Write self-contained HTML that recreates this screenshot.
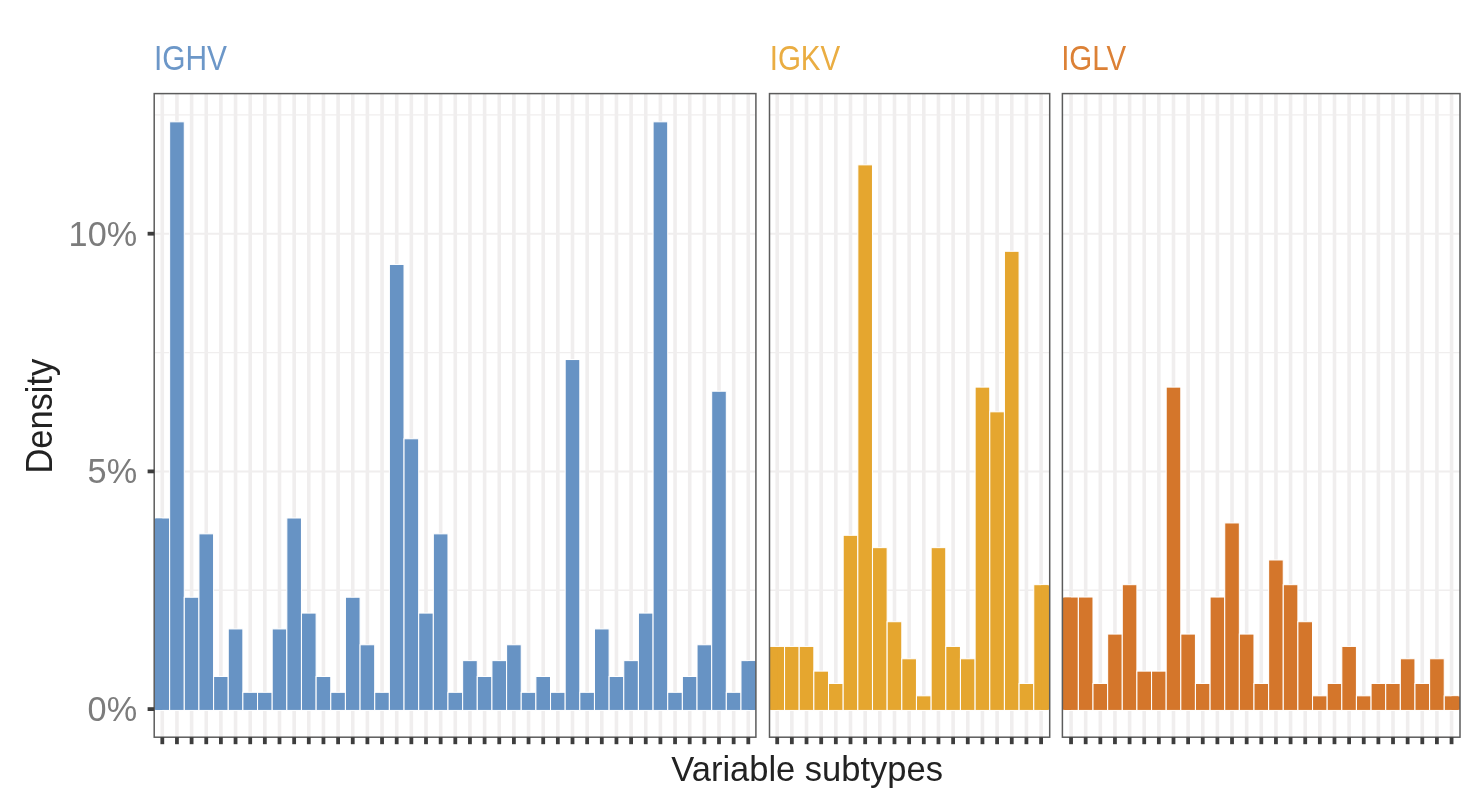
<!DOCTYPE html>
<html lang="en"><head><meta charset="utf-8"><title>Variable subtypes density</title>
<style>
html,body{margin:0;padding:0;background:#fff}
body{width:1484px;height:812px;overflow:hidden}
svg{display:block;filter:blur(0.55px)}
svg text{font-family:"Liberation Sans",Arial,Helvetica,sans-serif}
</style></head><body>
<svg width="1484" height="812" viewBox="0 0 1484 812">
<rect width="1484" height="812" fill="#fff"/>
<g><line x1="154.2" x2="755.9" y1="709.1" y2="709.1" stroke="#f0eeee" stroke-width="2.0"/><line x1="154.2" x2="755.9" y1="590.25" y2="590.25" stroke="#f0eeee" stroke-width="1.3"/><line x1="154.2" x2="755.9" y1="471.4" y2="471.4" stroke="#f0eeee" stroke-width="2.0"/><line x1="154.2" x2="755.9" y1="352.55" y2="352.55" stroke="#f0eeee" stroke-width="1.3"/><line x1="154.2" x2="755.9" y1="233.7" y2="233.7" stroke="#f0eeee" stroke-width="2.0"/><line x1="154.2" x2="755.9" y1="114.85" y2="114.85" stroke="#f0eeee" stroke-width="1.3"/><line x1="162.3" x2="162.3" y1="93.6" y2="737.2" stroke="#f0eeee" stroke-width="3.6"/><line x1="176.95" x2="176.95" y1="93.6" y2="737.2" stroke="#f0eeee" stroke-width="3.6"/><line x1="191.6" x2="191.6" y1="93.6" y2="737.2" stroke="#f0eeee" stroke-width="3.6"/><line x1="206.25" x2="206.25" y1="93.6" y2="737.2" stroke="#f0eeee" stroke-width="3.6"/><line x1="220.9" x2="220.9" y1="93.6" y2="737.2" stroke="#f0eeee" stroke-width="3.6"/><line x1="235.55" x2="235.55" y1="93.6" y2="737.2" stroke="#f0eeee" stroke-width="3.6"/><line x1="250.2" x2="250.2" y1="93.6" y2="737.2" stroke="#f0eeee" stroke-width="3.6"/><line x1="264.85" x2="264.85" y1="93.6" y2="737.2" stroke="#f0eeee" stroke-width="3.6"/><line x1="279.5" x2="279.5" y1="93.6" y2="737.2" stroke="#f0eeee" stroke-width="3.6"/><line x1="294.15" x2="294.15" y1="93.6" y2="737.2" stroke="#f0eeee" stroke-width="3.6"/><line x1="308.8" x2="308.8" y1="93.6" y2="737.2" stroke="#f0eeee" stroke-width="3.6"/><line x1="323.45" x2="323.45" y1="93.6" y2="737.2" stroke="#f0eeee" stroke-width="3.6"/><line x1="338.1" x2="338.1" y1="93.6" y2="737.2" stroke="#f0eeee" stroke-width="3.6"/><line x1="352.75" x2="352.75" y1="93.6" y2="737.2" stroke="#f0eeee" stroke-width="3.6"/><line x1="367.4" x2="367.4" y1="93.6" y2="737.2" stroke="#f0eeee" stroke-width="3.6"/><line x1="382.05" x2="382.05" y1="93.6" y2="737.2" stroke="#f0eeee" stroke-width="3.6"/><line x1="396.7" x2="396.7" y1="93.6" y2="737.2" stroke="#f0eeee" stroke-width="3.6"/><line x1="411.35" x2="411.35" y1="93.6" y2="737.2" stroke="#f0eeee" stroke-width="3.6"/><line x1="426" x2="426" y1="93.6" y2="737.2" stroke="#f0eeee" stroke-width="3.6"/><line x1="440.65" x2="440.65" y1="93.6" y2="737.2" stroke="#f0eeee" stroke-width="3.6"/><line x1="455.3" x2="455.3" y1="93.6" y2="737.2" stroke="#f0eeee" stroke-width="3.6"/><line x1="469.95" x2="469.95" y1="93.6" y2="737.2" stroke="#f0eeee" stroke-width="3.6"/><line x1="484.6" x2="484.6" y1="93.6" y2="737.2" stroke="#f0eeee" stroke-width="3.6"/><line x1="499.25" x2="499.25" y1="93.6" y2="737.2" stroke="#f0eeee" stroke-width="3.6"/><line x1="513.9" x2="513.9" y1="93.6" y2="737.2" stroke="#f0eeee" stroke-width="3.6"/><line x1="528.55" x2="528.55" y1="93.6" y2="737.2" stroke="#f0eeee" stroke-width="3.6"/><line x1="543.2" x2="543.2" y1="93.6" y2="737.2" stroke="#f0eeee" stroke-width="3.6"/><line x1="557.85" x2="557.85" y1="93.6" y2="737.2" stroke="#f0eeee" stroke-width="3.6"/><line x1="572.5" x2="572.5" y1="93.6" y2="737.2" stroke="#f0eeee" stroke-width="3.6"/><line x1="587.15" x2="587.15" y1="93.6" y2="737.2" stroke="#f0eeee" stroke-width="3.6"/><line x1="601.8" x2="601.8" y1="93.6" y2="737.2" stroke="#f0eeee" stroke-width="3.6"/><line x1="616.45" x2="616.45" y1="93.6" y2="737.2" stroke="#f0eeee" stroke-width="3.6"/><line x1="631.1" x2="631.1" y1="93.6" y2="737.2" stroke="#f0eeee" stroke-width="3.6"/><line x1="645.75" x2="645.75" y1="93.6" y2="737.2" stroke="#f0eeee" stroke-width="3.6"/><line x1="660.4" x2="660.4" y1="93.6" y2="737.2" stroke="#f0eeee" stroke-width="3.6"/><line x1="675.05" x2="675.05" y1="93.6" y2="737.2" stroke="#f0eeee" stroke-width="3.6"/><line x1="689.7" x2="689.7" y1="93.6" y2="737.2" stroke="#f0eeee" stroke-width="3.6"/><line x1="704.35" x2="704.35" y1="93.6" y2="737.2" stroke="#f0eeee" stroke-width="3.6"/><line x1="719" x2="719" y1="93.6" y2="737.2" stroke="#f0eeee" stroke-width="3.6"/><line x1="733.65" x2="733.65" y1="93.6" y2="737.2" stroke="#f0eeee" stroke-width="3.6"/><line x1="748.3" x2="748.3" y1="93.6" y2="737.2" stroke="#f0eeee" stroke-width="3.6"/></g>
<g fill="#6793c4" stroke="#fff" stroke-width="1.05"><rect x="154.98" y="517.99" width="14.65" height="192.46"/><rect x="169.63" y="121.82" width="14.65" height="588.63"/><rect x="184.28" y="597.22" width="14.65" height="113.23"/><rect x="198.93" y="533.84" width="14.65" height="176.61"/><rect x="213.58" y="676.46" width="14.65" height="33.99"/><rect x="228.23" y="628.92" width="14.65" height="81.53"/><rect x="242.88" y="692.3" width="14.65" height="18.15"/><rect x="257.53" y="692.3" width="14.65" height="18.15"/><rect x="272.18" y="628.92" width="14.65" height="81.53"/><rect x="286.82" y="517.99" width="14.65" height="192.46"/><rect x="301.48" y="613.07" width="14.65" height="97.38"/><rect x="316.13" y="676.46" width="14.65" height="33.99"/><rect x="330.78" y="692.3" width="14.65" height="18.15"/><rect x="345.43" y="597.22" width="14.65" height="113.23"/><rect x="360.07" y="644.76" width="14.65" height="65.69"/><rect x="374.73" y="692.3" width="14.65" height="18.15"/><rect x="389.38" y="264.44" width="14.65" height="446.01"/><rect x="404.03" y="438.76" width="14.65" height="271.69"/><rect x="418.68" y="613.07" width="14.65" height="97.38"/><rect x="433.33" y="533.84" width="14.65" height="176.61"/><rect x="447.98" y="692.3" width="14.65" height="18.15"/><rect x="462.63" y="660.61" width="14.65" height="49.84"/><rect x="477.28" y="676.46" width="14.65" height="33.99"/><rect x="491.93" y="660.61" width="14.65" height="49.84"/><rect x="506.58" y="644.76" width="14.65" height="65.69"/><rect x="521.22" y="692.3" width="14.65" height="18.15"/><rect x="535.88" y="676.46" width="14.65" height="33.99"/><rect x="550.52" y="692.3" width="14.65" height="18.15"/><rect x="565.17" y="359.52" width="14.65" height="350.93"/><rect x="579.83" y="692.3" width="14.65" height="18.15"/><rect x="594.47" y="628.92" width="14.65" height="81.53"/><rect x="609.12" y="676.46" width="14.65" height="33.99"/><rect x="623.77" y="660.61" width="14.65" height="49.84"/><rect x="638.42" y="613.07" width="14.65" height="97.38"/><rect x="653.08" y="121.82" width="14.65" height="588.63"/><rect x="667.72" y="692.3" width="14.65" height="18.15"/><rect x="682.38" y="676.46" width="14.65" height="33.99"/><rect x="697.03" y="644.76" width="14.65" height="65.69"/><rect x="711.67" y="391.22" width="14.65" height="319.23"/><rect x="726.33" y="692.3" width="14.65" height="18.15"/><rect x="740.97" y="660.61" width="14.65" height="49.84"/></g>
<g fill="#6793c4"><rect x="154.2" y="518.64" width="8.1" height="191.16"/><rect x="748.3" y="661.26" width="7.6" height="48.54"/></g>
<rect x="154.2" y="93.6" width="601.7" height="643.6" fill="none" stroke="#5c5c5c" stroke-width="1.5"/>
<g stroke="#3d3d3d" stroke-width="3.8"><line x1="162.3" x2="162.3" y1="737.2" y2="744.2"/><line x1="176.95" x2="176.95" y1="737.2" y2="744.2"/><line x1="191.6" x2="191.6" y1="737.2" y2="744.2"/><line x1="206.25" x2="206.25" y1="737.2" y2="744.2"/><line x1="220.9" x2="220.9" y1="737.2" y2="744.2"/><line x1="235.55" x2="235.55" y1="737.2" y2="744.2"/><line x1="250.2" x2="250.2" y1="737.2" y2="744.2"/><line x1="264.85" x2="264.85" y1="737.2" y2="744.2"/><line x1="279.5" x2="279.5" y1="737.2" y2="744.2"/><line x1="294.15" x2="294.15" y1="737.2" y2="744.2"/><line x1="308.8" x2="308.8" y1="737.2" y2="744.2"/><line x1="323.45" x2="323.45" y1="737.2" y2="744.2"/><line x1="338.1" x2="338.1" y1="737.2" y2="744.2"/><line x1="352.75" x2="352.75" y1="737.2" y2="744.2"/><line x1="367.4" x2="367.4" y1="737.2" y2="744.2"/><line x1="382.05" x2="382.05" y1="737.2" y2="744.2"/><line x1="396.7" x2="396.7" y1="737.2" y2="744.2"/><line x1="411.35" x2="411.35" y1="737.2" y2="744.2"/><line x1="426" x2="426" y1="737.2" y2="744.2"/><line x1="440.65" x2="440.65" y1="737.2" y2="744.2"/><line x1="455.3" x2="455.3" y1="737.2" y2="744.2"/><line x1="469.95" x2="469.95" y1="737.2" y2="744.2"/><line x1="484.6" x2="484.6" y1="737.2" y2="744.2"/><line x1="499.25" x2="499.25" y1="737.2" y2="744.2"/><line x1="513.9" x2="513.9" y1="737.2" y2="744.2"/><line x1="528.55" x2="528.55" y1="737.2" y2="744.2"/><line x1="543.2" x2="543.2" y1="737.2" y2="744.2"/><line x1="557.85" x2="557.85" y1="737.2" y2="744.2"/><line x1="572.5" x2="572.5" y1="737.2" y2="744.2"/><line x1="587.15" x2="587.15" y1="737.2" y2="744.2"/><line x1="601.8" x2="601.8" y1="737.2" y2="744.2"/><line x1="616.45" x2="616.45" y1="737.2" y2="744.2"/><line x1="631.1" x2="631.1" y1="737.2" y2="744.2"/><line x1="645.75" x2="645.75" y1="737.2" y2="744.2"/><line x1="660.4" x2="660.4" y1="737.2" y2="744.2"/><line x1="675.05" x2="675.05" y1="737.2" y2="744.2"/><line x1="689.7" x2="689.7" y1="737.2" y2="744.2"/><line x1="704.35" x2="704.35" y1="737.2" y2="744.2"/><line x1="719" x2="719" y1="737.2" y2="744.2"/><line x1="733.65" x2="733.65" y1="737.2" y2="744.2"/><line x1="748.3" x2="748.3" y1="737.2" y2="744.2"/></g>
<text x="153.9" y="70.4" font-size="34.5" fill="#6c97c8" textLength="73.05" lengthAdjust="spacingAndGlyphs">IGHV</text>
<g><line x1="769.5" x2="1049.7" y1="709.1" y2="709.1" stroke="#f0eeee" stroke-width="2.0"/><line x1="769.5" x2="1049.7" y1="590.25" y2="590.25" stroke="#f0eeee" stroke-width="1.3"/><line x1="769.5" x2="1049.7" y1="471.4" y2="471.4" stroke="#f0eeee" stroke-width="2.0"/><line x1="769.5" x2="1049.7" y1="352.55" y2="352.55" stroke="#f0eeee" stroke-width="1.3"/><line x1="769.5" x2="1049.7" y1="233.7" y2="233.7" stroke="#f0eeee" stroke-width="2.0"/><line x1="769.5" x2="1049.7" y1="114.85" y2="114.85" stroke="#f0eeee" stroke-width="1.3"/><line x1="777.2" x2="777.2" y1="93.6" y2="737.2" stroke="#f0eeee" stroke-width="3.6"/><line x1="791.86" x2="791.86" y1="93.6" y2="737.2" stroke="#f0eeee" stroke-width="3.6"/><line x1="806.52" x2="806.52" y1="93.6" y2="737.2" stroke="#f0eeee" stroke-width="3.6"/><line x1="821.18" x2="821.18" y1="93.6" y2="737.2" stroke="#f0eeee" stroke-width="3.6"/><line x1="835.84" x2="835.84" y1="93.6" y2="737.2" stroke="#f0eeee" stroke-width="3.6"/><line x1="850.5" x2="850.5" y1="93.6" y2="737.2" stroke="#f0eeee" stroke-width="3.6"/><line x1="865.16" x2="865.16" y1="93.6" y2="737.2" stroke="#f0eeee" stroke-width="3.6"/><line x1="879.82" x2="879.82" y1="93.6" y2="737.2" stroke="#f0eeee" stroke-width="3.6"/><line x1="894.48" x2="894.48" y1="93.6" y2="737.2" stroke="#f0eeee" stroke-width="3.6"/><line x1="909.14" x2="909.14" y1="93.6" y2="737.2" stroke="#f0eeee" stroke-width="3.6"/><line x1="923.8" x2="923.8" y1="93.6" y2="737.2" stroke="#f0eeee" stroke-width="3.6"/><line x1="938.46" x2="938.46" y1="93.6" y2="737.2" stroke="#f0eeee" stroke-width="3.6"/><line x1="953.12" x2="953.12" y1="93.6" y2="737.2" stroke="#f0eeee" stroke-width="3.6"/><line x1="967.78" x2="967.78" y1="93.6" y2="737.2" stroke="#f0eeee" stroke-width="3.6"/><line x1="982.44" x2="982.44" y1="93.6" y2="737.2" stroke="#f0eeee" stroke-width="3.6"/><line x1="997.1" x2="997.1" y1="93.6" y2="737.2" stroke="#f0eeee" stroke-width="3.6"/><line x1="1011.76" x2="1011.76" y1="93.6" y2="737.2" stroke="#f0eeee" stroke-width="3.6"/><line x1="1026.42" x2="1026.42" y1="93.6" y2="737.2" stroke="#f0eeee" stroke-width="3.6"/><line x1="1041.08" x2="1041.08" y1="93.6" y2="737.2" stroke="#f0eeee" stroke-width="3.6"/></g>
<g fill="#e5a62f" stroke="#fff" stroke-width="1.05"><rect x="769.87" y="646.41" width="14.66" height="64.04"/><rect x="784.53" y="646.41" width="14.66" height="64.04"/><rect x="799.19" y="646.41" width="14.66" height="64.04"/><rect x="813.85" y="671.11" width="14.66" height="39.34"/><rect x="828.51" y="683.45" width="14.66" height="27"/><rect x="843.17" y="535.28" width="14.66" height="175.17"/><rect x="857.83" y="164.84" width="14.66" height="545.61"/><rect x="872.49" y="547.63" width="14.66" height="162.82"/><rect x="887.15" y="621.71" width="14.66" height="88.74"/><rect x="901.81" y="658.76" width="14.66" height="51.69"/><rect x="916.47" y="695.8" width="14.66" height="14.65"/><rect x="931.13" y="547.63" width="14.66" height="162.82"/><rect x="945.79" y="646.41" width="14.66" height="64.04"/><rect x="960.45" y="658.76" width="14.66" height="51.69"/><rect x="975.11" y="387.1" width="14.66" height="323.35"/><rect x="989.77" y="411.8" width="14.66" height="298.65"/><rect x="1004.43" y="251.27" width="14.66" height="459.18"/><rect x="1019.09" y="683.45" width="14.66" height="27"/><rect x="1033.75" y="584.67" width="14.66" height="125.78"/></g>
<g fill="#e5a62f"><rect x="769.5" y="647.06" width="7.7" height="62.74"/><rect x="1041.08" y="585.32" width="8.62" height="124.48"/></g>
<rect x="769.5" y="93.6" width="280.2" height="643.6" fill="none" stroke="#5c5c5c" stroke-width="1.5"/>
<g stroke="#3d3d3d" stroke-width="3.8"><line x1="777.2" x2="777.2" y1="737.2" y2="744.2"/><line x1="791.86" x2="791.86" y1="737.2" y2="744.2"/><line x1="806.52" x2="806.52" y1="737.2" y2="744.2"/><line x1="821.18" x2="821.18" y1="737.2" y2="744.2"/><line x1="835.84" x2="835.84" y1="737.2" y2="744.2"/><line x1="850.5" x2="850.5" y1="737.2" y2="744.2"/><line x1="865.16" x2="865.16" y1="737.2" y2="744.2"/><line x1="879.82" x2="879.82" y1="737.2" y2="744.2"/><line x1="894.48" x2="894.48" y1="737.2" y2="744.2"/><line x1="909.14" x2="909.14" y1="737.2" y2="744.2"/><line x1="923.8" x2="923.8" y1="737.2" y2="744.2"/><line x1="938.46" x2="938.46" y1="737.2" y2="744.2"/><line x1="953.12" x2="953.12" y1="737.2" y2="744.2"/><line x1="967.78" x2="967.78" y1="737.2" y2="744.2"/><line x1="982.44" x2="982.44" y1="737.2" y2="744.2"/><line x1="997.1" x2="997.1" y1="737.2" y2="744.2"/><line x1="1011.76" x2="1011.76" y1="737.2" y2="744.2"/><line x1="1026.42" x2="1026.42" y1="737.2" y2="744.2"/><line x1="1041.08" x2="1041.08" y1="737.2" y2="744.2"/></g>
<text x="769.7" y="70.4" font-size="34.5" fill="#eaad42" textLength="70.6" lengthAdjust="spacingAndGlyphs">IGKV</text>
<g><line x1="1062.4" x2="1460" y1="709.1" y2="709.1" stroke="#f0eeee" stroke-width="2.0"/><line x1="1062.4" x2="1460" y1="590.25" y2="590.25" stroke="#f0eeee" stroke-width="1.3"/><line x1="1062.4" x2="1460" y1="471.4" y2="471.4" stroke="#f0eeee" stroke-width="2.0"/><line x1="1062.4" x2="1460" y1="352.55" y2="352.55" stroke="#f0eeee" stroke-width="1.3"/><line x1="1062.4" x2="1460" y1="233.7" y2="233.7" stroke="#f0eeee" stroke-width="2.0"/><line x1="1062.4" x2="1460" y1="114.85" y2="114.85" stroke="#f0eeee" stroke-width="1.3"/><line x1="1071.05" x2="1071.05" y1="93.6" y2="737.2" stroke="#f0eeee" stroke-width="3.6"/><line x1="1085.68" x2="1085.68" y1="93.6" y2="737.2" stroke="#f0eeee" stroke-width="3.6"/><line x1="1100.32" x2="1100.32" y1="93.6" y2="737.2" stroke="#f0eeee" stroke-width="3.6"/><line x1="1114.95" x2="1114.95" y1="93.6" y2="737.2" stroke="#f0eeee" stroke-width="3.6"/><line x1="1129.59" x2="1129.59" y1="93.6" y2="737.2" stroke="#f0eeee" stroke-width="3.6"/><line x1="1144.22" x2="1144.22" y1="93.6" y2="737.2" stroke="#f0eeee" stroke-width="3.6"/><line x1="1158.86" x2="1158.86" y1="93.6" y2="737.2" stroke="#f0eeee" stroke-width="3.6"/><line x1="1173.49" x2="1173.49" y1="93.6" y2="737.2" stroke="#f0eeee" stroke-width="3.6"/><line x1="1188.13" x2="1188.13" y1="93.6" y2="737.2" stroke="#f0eeee" stroke-width="3.6"/><line x1="1202.76" x2="1202.76" y1="93.6" y2="737.2" stroke="#f0eeee" stroke-width="3.6"/><line x1="1217.4" x2="1217.4" y1="93.6" y2="737.2" stroke="#f0eeee" stroke-width="3.6"/><line x1="1232.03" x2="1232.03" y1="93.6" y2="737.2" stroke="#f0eeee" stroke-width="3.6"/><line x1="1246.67" x2="1246.67" y1="93.6" y2="737.2" stroke="#f0eeee" stroke-width="3.6"/><line x1="1261.3" x2="1261.3" y1="93.6" y2="737.2" stroke="#f0eeee" stroke-width="3.6"/><line x1="1275.94" x2="1275.94" y1="93.6" y2="737.2" stroke="#f0eeee" stroke-width="3.6"/><line x1="1290.58" x2="1290.58" y1="93.6" y2="737.2" stroke="#f0eeee" stroke-width="3.6"/><line x1="1305.21" x2="1305.21" y1="93.6" y2="737.2" stroke="#f0eeee" stroke-width="3.6"/><line x1="1319.85" x2="1319.85" y1="93.6" y2="737.2" stroke="#f0eeee" stroke-width="3.6"/><line x1="1334.48" x2="1334.48" y1="93.6" y2="737.2" stroke="#f0eeee" stroke-width="3.6"/><line x1="1349.12" x2="1349.12" y1="93.6" y2="737.2" stroke="#f0eeee" stroke-width="3.6"/><line x1="1363.75" x2="1363.75" y1="93.6" y2="737.2" stroke="#f0eeee" stroke-width="3.6"/><line x1="1378.38" x2="1378.38" y1="93.6" y2="737.2" stroke="#f0eeee" stroke-width="3.6"/><line x1="1393.02" x2="1393.02" y1="93.6" y2="737.2" stroke="#f0eeee" stroke-width="3.6"/><line x1="1407.65" x2="1407.65" y1="93.6" y2="737.2" stroke="#f0eeee" stroke-width="3.6"/><line x1="1422.29" x2="1422.29" y1="93.6" y2="737.2" stroke="#f0eeee" stroke-width="3.6"/><line x1="1436.92" x2="1436.92" y1="93.6" y2="737.2" stroke="#f0eeee" stroke-width="3.6"/><line x1="1451.56" x2="1451.56" y1="93.6" y2="737.2" stroke="#f0eeee" stroke-width="3.6"/></g>
<g fill="#d4762b" stroke="#fff" stroke-width="1.05"><rect x="1063.73" y="597.02" width="14.63" height="113.43"/><rect x="1078.37" y="597.02" width="14.63" height="113.43"/><rect x="1093" y="683.45" width="14.63" height="27"/><rect x="1107.64" y="634.06" width="14.63" height="76.39"/><rect x="1122.27" y="584.67" width="14.63" height="125.78"/><rect x="1136.91" y="671.11" width="14.63" height="39.34"/><rect x="1151.54" y="671.11" width="14.63" height="39.34"/><rect x="1166.18" y="387.1" width="14.63" height="323.35"/><rect x="1180.81" y="634.06" width="14.63" height="76.39"/><rect x="1195.45" y="683.45" width="14.63" height="27"/><rect x="1210.08" y="597.02" width="14.63" height="113.43"/><rect x="1224.72" y="522.93" width="14.63" height="187.52"/><rect x="1239.35" y="634.06" width="14.63" height="76.39"/><rect x="1253.99" y="683.45" width="14.63" height="27"/><rect x="1268.62" y="559.97" width="14.63" height="150.48"/><rect x="1283.26" y="584.67" width="14.63" height="125.78"/><rect x="1297.89" y="621.71" width="14.63" height="88.74"/><rect x="1312.53" y="695.8" width="14.63" height="14.65"/><rect x="1327.16" y="683.45" width="14.63" height="27"/><rect x="1341.8" y="646.41" width="14.63" height="64.04"/><rect x="1356.43" y="695.8" width="14.63" height="14.65"/><rect x="1371.07" y="683.45" width="14.63" height="27"/><rect x="1385.7" y="683.45" width="14.63" height="27"/><rect x="1400.34" y="658.76" width="14.63" height="51.69"/><rect x="1414.97" y="683.45" width="14.63" height="27"/><rect x="1429.61" y="658.76" width="14.63" height="51.69"/><rect x="1444.24" y="695.8" width="14.63" height="14.65"/></g>
<g fill="#d4762b"><rect x="1062.4" y="597.67" width="8.65" height="112.13"/><rect x="1451.56" y="696.45" width="8.44" height="13.35"/></g>
<rect x="1062.4" y="93.6" width="397.6" height="643.6" fill="none" stroke="#5c5c5c" stroke-width="1.5"/>
<g stroke="#3d3d3d" stroke-width="3.8"><line x1="1071.05" x2="1071.05" y1="737.2" y2="744.2"/><line x1="1085.68" x2="1085.68" y1="737.2" y2="744.2"/><line x1="1100.32" x2="1100.32" y1="737.2" y2="744.2"/><line x1="1114.95" x2="1114.95" y1="737.2" y2="744.2"/><line x1="1129.59" x2="1129.59" y1="737.2" y2="744.2"/><line x1="1144.22" x2="1144.22" y1="737.2" y2="744.2"/><line x1="1158.86" x2="1158.86" y1="737.2" y2="744.2"/><line x1="1173.49" x2="1173.49" y1="737.2" y2="744.2"/><line x1="1188.13" x2="1188.13" y1="737.2" y2="744.2"/><line x1="1202.76" x2="1202.76" y1="737.2" y2="744.2"/><line x1="1217.4" x2="1217.4" y1="737.2" y2="744.2"/><line x1="1232.03" x2="1232.03" y1="737.2" y2="744.2"/><line x1="1246.67" x2="1246.67" y1="737.2" y2="744.2"/><line x1="1261.3" x2="1261.3" y1="737.2" y2="744.2"/><line x1="1275.94" x2="1275.94" y1="737.2" y2="744.2"/><line x1="1290.58" x2="1290.58" y1="737.2" y2="744.2"/><line x1="1305.21" x2="1305.21" y1="737.2" y2="744.2"/><line x1="1319.85" x2="1319.85" y1="737.2" y2="744.2"/><line x1="1334.48" x2="1334.48" y1="737.2" y2="744.2"/><line x1="1349.12" x2="1349.12" y1="737.2" y2="744.2"/><line x1="1363.75" x2="1363.75" y1="737.2" y2="744.2"/><line x1="1378.38" x2="1378.38" y1="737.2" y2="744.2"/><line x1="1393.02" x2="1393.02" y1="737.2" y2="744.2"/><line x1="1407.65" x2="1407.65" y1="737.2" y2="744.2"/><line x1="1422.29" x2="1422.29" y1="737.2" y2="744.2"/><line x1="1436.92" x2="1436.92" y1="737.2" y2="744.2"/><line x1="1451.56" x2="1451.56" y1="737.2" y2="744.2"/></g>
<text x="1061.2" y="70.4" font-size="34.5" fill="#dc8136" textLength="64.9" lengthAdjust="spacingAndGlyphs">IGLV</text>
<line x1="147.6" x2="154.2" y1="709.1" y2="709.1" stroke="#3d3d3d" stroke-width="3.8"/><text x="137.1" y="721" text-anchor="end" font-size="35.2" textLength="49.5" lengthAdjust="spacingAndGlyphs" fill="#7c7c7c">0%</text><line x1="147.6" x2="154.2" y1="471.4" y2="471.4" stroke="#3d3d3d" stroke-width="3.8"/><text x="137.1" y="483.3" text-anchor="end" font-size="35.2" textLength="49.5" lengthAdjust="spacingAndGlyphs" fill="#7c7c7c">5%</text><line x1="147.6" x2="154.2" y1="233.7" y2="233.7" stroke="#3d3d3d" stroke-width="3.8"/><text x="137.1" y="245.6" text-anchor="end" font-size="35.2" textLength="68.5" lengthAdjust="spacingAndGlyphs" fill="#7c7c7c">10%</text>
<text x="807.1" y="781.2" text-anchor="middle" font-size="34.5" fill="#222">Variable subtypes</text>
<text transform="translate(52.1 416.2) rotate(-90)" text-anchor="middle" font-size="36.5" textLength="114.8" lengthAdjust="spacingAndGlyphs" fill="#222">Density</text>
</svg>
</body></html>
